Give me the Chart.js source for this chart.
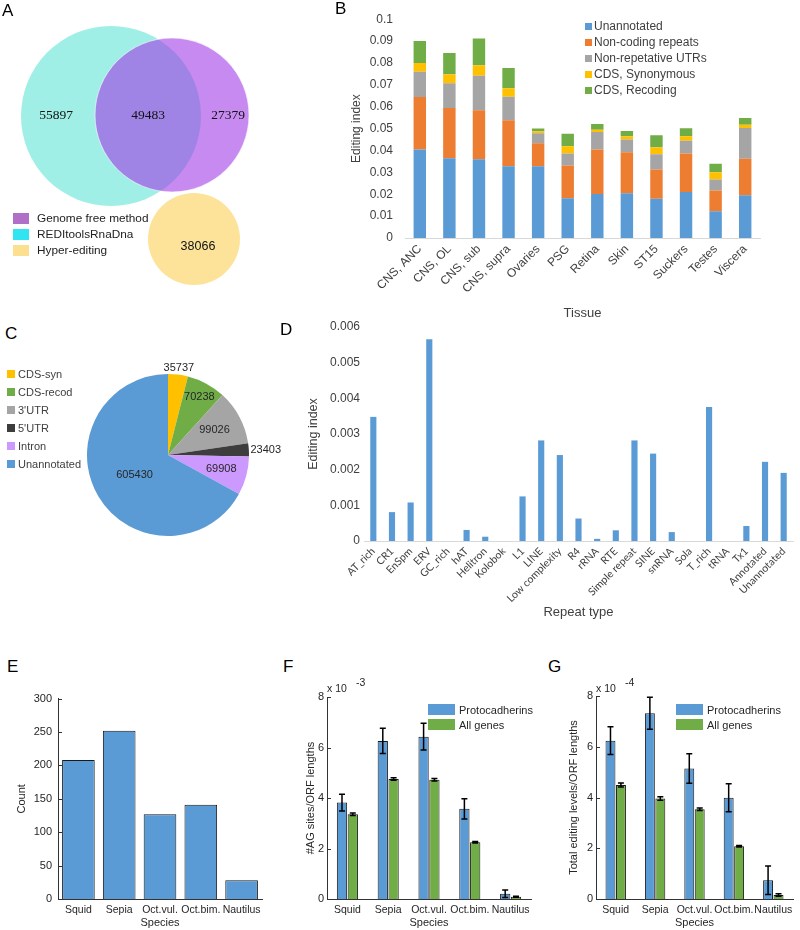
<!DOCTYPE html>
<html>
<head>
<meta charset="utf-8">
<script src="https://cdn.jsdelivr.net/npm/chart.js@4.4.0/dist/chart.umd.min.js"></script>
<style>
  body { margin: 0; background: #fff; }
  #fig { position: relative; width: 800px; height: 930px; overflow: hidden; font-family: 'Liberation Sans', Arial, sans-serif; color: #404040; }
  #fig canvas { position: absolute; }
  .t { position: absolute; white-space: nowrap; line-height: 1; transform: translateY(-50%); }
  .sw { position: absolute; }
</style>
</head>
<body>
<div id="fig">
  <canvas id="venn" width="270" height="300" style="left:0;top:0"></canvas>
  <canvas id="tissue" width="430" height="325" style="left:345px;top:0"></canvas>
  <canvas id="pie" width="230" height="200" style="left:60px;top:360px"></canvas>
  <canvas id="repeat" width="498" height="314" style="left:302px;top:310px"></canvas>
  <canvas id="count" width="258" height="244" style="left:12px;top:686px"></canvas>
  <canvas id="agsites" width="234" height="244" style="left:301px;top:686px"></canvas>
  <canvas id="levels" width="236" height="244" style="left:564px;top:686px"></canvas>
</div>
<script>
// A - Venn of detected sites
const vennNames = ['Genome free method', 'REDItoolsRnaDna', 'Hyper-editing'];
const vennCounts = [55897, 49483, 27379, 38066];

// B - editing index per tissue (stacked)
const tissues = ['CNS, ANC', 'CNS, OL', 'CNS, sub', 'CNS, supra', 'Ovaries', 'PSG', 'Retina', 'Skin', 'ST15', 'Suckers', 'Testes', 'Viscera'];
const tissueSeries = ['Unannotated', 'Non-coding repeats', 'Non-repetative UTRs', 'CDS, Synonymous', 'CDS, Recoding'];
const unannotatedIdx = [0.0404, 0.0365, 0.0360, 0.0328, 0.0328, 0.0182, 0.0201, 0.0204, 0.0179, 0.0210, 0.0122, 0.0195];
const repeatsIdx     = [0.0240, 0.0229, 0.0224, 0.0210, 0.0105, 0.0149, 0.0203, 0.0188, 0.0134, 0.0176, 0.0095, 0.0167];
const utrIdx         = [0.0116, 0.0113, 0.0158, 0.0108, 0.0046, 0.0055, 0.0081, 0.0058, 0.0070, 0.0059, 0.0050, 0.0141];
const synIdx         = [0.0040, 0.0041, 0.0048, 0.0038, 0.0009, 0.0033, 0.0010, 0.0015, 0.0032, 0.0020, 0.0034, 0.0015];
const recodIdx       = [0.0100, 0.0097, 0.0122, 0.0093, 0.0012, 0.0058, 0.0026, 0.0024, 0.0055, 0.0037, 0.0038, 0.0031];

// C - sites per genomic region
const regions = ['CDS-syn', 'CDS-recod', "3'UTR", "5'UTR", 'Intron', 'Unannotated'];
const regionSites = [35737, 70238, 99026, 23403, 69908, 605430];

// D - editing index per repeat type
const repeatTypes = ['AT_rich', 'CR1', 'EnSpm', 'ERV', 'GC_rich', 'hAT', 'Helitron', 'Kolobok', 'L1', 'LINE', 'Low complexity', 'R4', 'rRNA', 'RTE', 'Simple repeat', 'SINE', 'snRNA', 'Sola', 'T_rich', 'tRNA', 'Tx1', 'Annotated', 'Unannotated'];
const repeatIdx = [0.00348, 0.00081, 0.00108, 0.00566, 0, 0.00031, 0.00012, 0, 0.00125, 0.00282, 0.00241, 0.00063, 0.00006, 0.00030, 0.00282, 0.00245, 0.00025, 0, 0.00376, 0, 0.00042, 0.00222, 0.00191];

// E/F/G - protocadherins per species
const species = ['Squid', 'Sepia', 'Oct.vul.', 'Oct.bim.', 'Nautilus'];
const pcdhCount = [208, 252, 127, 141, 28];
// F, units of 10^-3
const agProto    = [3.82, 6.26, 6.43, 3.57, 0.21];
const agProtoErr = [0.33, 0.50, 0.53, 0.40, 0.15];
const agAll      = [3.36, 4.75, 4.72, 2.25, 0.09];
const agAllErr   = [0.05, 0.05, 0.05, 0.03, 0.02];
// G, units of 10^-4
const levProto    = [6.24, 7.32, 5.14, 3.99, 0.74];
const levProtoErr = [0.55, 0.63, 0.58, 0.55, 0.56];
const levAll      = [4.49, 3.96, 3.54, 2.08, 0.16];
const levAllErr   = [0.08, 0.07, 0.05, 0.03, 0.05];

const FONT = "'Liberation Sans', Arial, sans-serif";
Chart.defaults.font.family = FONT;
Chart.defaults.color = '#404040';
Chart.defaults.animation = false;
Chart.defaults.responsive = false;
Chart.defaults.events = [];
Chart.defaults.plugins.legend.display = false;
Chart.defaults.plugins.tooltip.enabled = false;

const xlBlue = '#5b9bd5', xlOrange = '#ed7d31', xlGray = '#a5a5a5', xlYellow = '#ffc000', xlGreen = '#70ad47';

const fig = document.getElementById('fig');
function text(str, x, y, css) {
  const d = document.createElement('div');
  d.className = 't';
  d.textContent = str;
  d.style.left = x + 'px';
  d.style.top = y + 'px';
  Object.assign(d.style, css || {});
  fig.appendChild(d);
  return d;
}
function swatch(color, x, y, w, h) {
  const d = document.createElement('div');
  d.className = 'sw';
  Object.assign(d.style, { left: x + 'px', top: y + 'px', width: w + 'px', height: h + 'px', background: color });
  fig.appendChild(d);
}
const fixW = w => s => { s.width = w; };
const fixH = h => s => { s.height = h; };

// panel letters
[['A', 2, 10], ['B', 335, 8], ['C', 5, 333], ['D', 280, 329], ['E', 7, 666], ['F', 283, 666], ['G', 548, 666]]
  .forEach(p => text(p[0], p[1], p[2], { fontSize: '17px', color: '#000' }));

// ---------- A: Venn (bubble chart in a pixel-sized data space) ----------
// circle order: REDItools (cyan), Genome free (purple, drawn over it), Hyper-editing
const vennGeom = { x: [111, 172, 194], y: [116, 115, 239], r: [90, 77, 46] };
const vennTextAt = [[56, 115], [148, 115], [228, 115], [198, 247]];
const vennLabels = {
  id: 'vennLabels',
  afterDatasetsDraw(chart) {
    const { ctx, scales: { x, y } } = chart;
    ctx.save();
    ctx.fillStyle = '#111';
    ctx.textAlign = 'center';
    ctx.textBaseline = 'middle';
    vennCounts.forEach((c, i) => {
      ctx.font = i < 3 ? "13.5px 'Liberation Serif', 'Times New Roman', serif" : '12.5px ' + FONT;
      ctx.fillText(String(c), x.getPixelForValue(vennTextAt[i][0]), y.getPixelForValue(vennTextAt[i][1]));
    });
    ctx.restore();
  }
};
new Chart(document.getElementById('venn'), {
  type: 'bubble',
  data: {
    datasets: [{
      data: vennGeom.x.map((x, i) => ({ x: x, y: vennGeom.y[i], r: vennGeom.r[i] })),
      backgroundColor: ['rgba(64,224,208,0.5)', 'rgba(160,60,230,0.6)', '#fde39a'],
      borderColor: ['rgba(0,0,0,0)', 'rgba(255,255,255,0.6)', 'rgba(0,0,0,0)'],
      borderWidth: [0, 1, 0],
      clip: false
    }]
  },
  options: {
    layout: { padding: 0, autoPadding: false },
    scales: {
      x: { type: 'linear', min: 0, max: 270, display: false },
      y: { type: 'linear', min: 0, max: 300, reverse: true, display: false }
    }
  },
  plugins: [vennLabels]
});
const vennSwatch = ['#b070c8', '#30e4f2', '#fde08f'];
vennNames.forEach((n, i) => {
  swatch(vennSwatch[i], 13, 213 + i * 16, 16, 11);
  text(n, 37, 218.5 + i * 16, { fontSize: '11.8px', color: '#222' });
});

// ---------- B: stacked editing index per tissue ----------
const tissueColors = [xlBlue, xlOrange, xlGray, xlYellow, xlGreen];
const tissueData = [unannotatedIdx, repeatsIdx, utrIdx, synIdx, recodIdx];
new Chart(document.getElementById('tissue'), {
  type: 'bar',
  data: {
    labels: tissues,
    datasets: tissueSeries.map((s, i) => ({
      label: s, data: tissueData[i], backgroundColor: tissueColors[i],
      barPercentage: 0.42, categoryPercentage: 1
    }))
  },
  options: {
    layout: { padding: { top: 18, right: 15, left: 0, bottom: 0 } },
    scales: {
      x: {
        stacked: true,
        grid: { display: false, drawTicks: false },
        border: { display: true, color: '#d9d9d9' },
        ticks: { font: { size: 12 }, minRotation: 45, maxRotation: 45, autoSkip: false, padding: 4 },
        title: { display: true, text: 'Tissue', font: { size: 13 } },
        afterFit: fixH(87)
      },
      y: {
        stacked: true, min: 0, max: 0.1,
        grid: { display: false, drawTicks: false },
        border: { display: false },
        ticks: { stepSize: 0.01, font: { size: 12 }, padding: 12, callback: v => String(+v.toFixed(3)) },
        title: { display: true, text: 'Editing index', font: { size: 12 } },
        afterFit: fixW(60)
      }
    }
  }
});
tissueSeries.forEach((s, i) => {
  swatch(tissueColors[i], 585, 22.5 + i * 16, 7, 7);
  text(s, 594, 26 + i * 16, { fontSize: '12px' });
});

// ---------- C: pie of sites per region ----------
const regionColors = [xlYellow, xlGreen, xlGray, '#3d3d3d', '#cc99ff', xlBlue];
const labelRadius = [1.08, 0.82, 0.65, 1.02, 0.68, 0.48];
const pieLabels = {
  id: 'pieLabels',
  afterDatasetsDraw(chart) {
    const { ctx } = chart;
    const meta = chart.getDatasetMeta(0);
    ctx.save();
    ctx.font = '11px ' + FONT;
    ctx.fillStyle = '#262626';
    ctx.textBaseline = 'middle';
    meta.data.forEach((arc, i) => {
      const p = arc.getProps(['x', 'y', 'startAngle', 'endAngle', 'outerRadius']);
      const mid = (p.startAngle + p.endAngle) / 2;
      const r = p.outerRadius * labelRadius[i];
      ctx.textAlign = i === 3 ? 'left' : 'center';
      ctx.fillText(String(regionSites[i]), p.x + Math.cos(mid) * r, p.y + Math.sin(mid) * r);
    });
    ctx.restore();
  }
};
new Chart(document.getElementById('pie'), {
  type: 'pie',
  data: { labels: regions, datasets: [{ data: regionSites, backgroundColor: regionColors, borderWidth: 0 }] },
  options: { layout: { padding: { left: 27, right: 41, top: 14, bottom: 24 }, autoPadding: false } },
  plugins: [pieLabels]
});
regions.forEach((r, i) => {
  swatch(regionColors[i], 7, 370 + i * 18, 8, 8);
  text(r, 18, 374 + i * 18, { fontSize: '11px' });
});

// ---------- D: editing index per repeat type ----------
new Chart(document.getElementById('repeat'), {
  type: 'bar',
  data: { labels: repeatTypes, datasets: [{ data: repeatIdx, backgroundColor: xlBlue, barPercentage: 0.33, categoryPercentage: 1 }] },
  options: {
    layout: { padding: { top: 17, right: 7, left: 0, bottom: 0 } },
    scales: {
      x: {
        grid: { display: false, drawTicks: false },
        border: { display: true, color: '#d9d9d9' },
        ticks: { font: { family: 'Lato', size: 10.5 }, minRotation: 45, maxRotation: 45, autoSkip: false, padding: 4 },
        title: { display: true, text: 'Repeat type', font: { size: 13 } },
        afterFit: fixH(83)
      },
      y: {
        min: 0, max: 0.006,
        grid: { display: false, drawTicks: false },
        border: { display: false },
        ticks: { stepSize: 0.001, font: { size: 12 }, padding: 4, callback: v => String(+v.toFixed(4)) },
        title: { display: true, text: 'Editing index', font: { size: 12.5 } },
        afterFit: fixW(62)
      }
    }
  }
});

// ---------- E/F/G: MATLAB-style bar charts ----------
const axisColor = '#333333';
const innerTicks = {
  id: 'innerTicks',
  afterDraw(chart) {
    const { ctx, chartArea, scales: { y } } = chart;
    ctx.save();
    ctx.strokeStyle = axisColor;
    ctx.lineWidth = 1;
    y.ticks.forEach((t, i) => {
      const py = Math.round(y.getPixelForTick(i)) + 0.5;
      ctx.beginPath();
      ctx.moveTo(chartArea.left, py);
      ctx.lineTo(chartArea.left + 4, py);
      ctx.stroke();
    });
    ctx.restore();
  }
};
const errorBars = {
  id: 'errorBars',
  afterDatasetsDraw(chart) {
    const { ctx, scales: { y } } = chart;
    ctx.save();
    ctx.strokeStyle = '#000';
    ctx.lineWidth = 1.5;
    chart.data.datasets.forEach((ds, i) => {
      if (!ds.errors) return;
      chart.getDatasetMeta(i).data.forEach((bar, j) => {
        const v = ds.data[j], e = ds.errors[j];
        const top = y.getPixelForValue(v + e), bot = y.getPixelForValue(v - e);
        ctx.beginPath();
        ctx.moveTo(bar.x, top); ctx.lineTo(bar.x, bot);
        ctx.moveTo(bar.x - 3, top); ctx.lineTo(bar.x + 3, top);
        ctx.moveTo(bar.x - 3, bot); ctx.lineTo(bar.x + 3, bot);
        ctx.stroke();
      });
    });
    ctx.restore();
  }
};
function matlabScales(yTitle, yMax, step, yWidth, tickPad) {
  return {
    x: {
      grid: { display: false, drawTicks: false },
      border: { display: true, color: axisColor },
      ticks: { font: { size: 10.5 }, color: '#262626', maxRotation: 0, minRotation: 0, autoSkip: false, padding: 5 },
      title: { display: true, text: 'Species', font: { size: 11 }, color: '#262626', padding: { top: 0, bottom: 0 } },
      afterFit: fixH(31)
    },
    y: {
      min: 0, max: yMax,
      grid: { display: false, drawTicks: false },
      border: { display: true, color: axisColor },
      ticks: { stepSize: step, font: { size: 11 }, color: '#262626', padding: tickPad },
      title: { display: true, text: yTitle, font: { size: 11 }, color: '#262626', padding: { top: 3, bottom: 3 } },
      afterFit: fixW(yWidth)
    }
  };
}

new Chart(document.getElementById('count'), {
  type: 'bar',
  data: { labels: species, datasets: [{ data: pcdhCount, backgroundColor: xlBlue, borderColor: '#1a1a1a', borderWidth: 1, barPercentage: 0.8, categoryPercentage: 1 }] },
  options: { layout: { padding: { top: 10, right: 8, left: 0, bottom: 0 } }, scales: matlabScales('Count', 300, 50, 46, 6) },
  plugins: [innerTicks]
});

function pairChart(id, proto, protoErr, all, allErr, yTitle, yWidth, pad) {
  return new Chart(document.getElementById(id), {
    type: 'bar',
    data: {
      labels: species,
      datasets: [
        { label: 'Protocadherins', data: proto, errors: protoErr, backgroundColor: xlBlue, borderColor: '#1a1a1a', borderWidth: 1, barPercentage: 0.95, categoryPercentage: 0.53 },
        { label: 'All genes', data: all, errors: allErr, backgroundColor: xlGreen, borderColor: '#1a1a1a', borderWidth: 1, barPercentage: 0.95, categoryPercentage: 0.53 }
      ]
    },
    options: { layout: { padding: pad }, scales: matlabScales(yTitle, 8, 2, yWidth, 3) },
    plugins: [innerTicks, errorBars]
  });
}
const fChart = pairChart('agsites', agProto, agProtoErr, agAll, agAllErr, '#AG sites/ORF lengths', 26, { top: 11, right: 4, left: 0, bottom: 0 });
const gChart = pairChart('levels', levProto, levProtoErr, levAll, levAllErr, 'Total editing levels/ORF lengths', 32, { top: 10, right: 7, left: 0, bottom: 0 });

// multipliers and legends for F and G
[[fChart, 327, '-3', 428], [gChart, 596, '-4', 676]].forEach(([c, x, ex, lx]) => {
  text('x 10', x, 688, { fontSize: '10.5px', color: '#262626' });
  text(ex, x + 29, 682, { fontSize: '10.5px', color: '#262626' });
  c.data.datasets.forEach((ds, i) => {
    swatch(ds.backgroundColor, lx, 704 + i * 15, 27, 11);
    text(ds.label, lx + 31, 710 + i * 15, { fontSize: '11px', color: '#262626' });
  });
});
</script>
</body>
</html>
